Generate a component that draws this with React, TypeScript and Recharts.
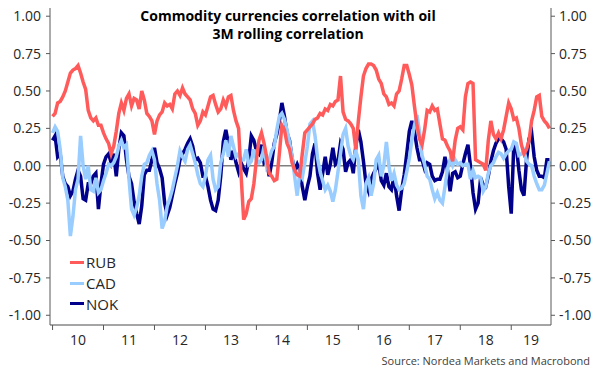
import React from 'react';
import { LineChart, Line, XAxis, YAxis, CartesianGrid, ReferenceLine } from 'recharts';

// 3M rolling correlation with oil, sampled every 0.05 year from 2010
const startYear = 2010;
const stepYears = 0.05;

const yearTicks = [2010, 2011, 2012, 2013, 2014, 2015, 2016, 2017, 2018, 2019];
const yearLabels = ['10', '11', '12', '13', '14', '15', '16', '17', '18', '19'];
const valueTicks = [-1, -0.75, -0.5, -0.25, 0, 0.25, 0.5, 0.75, 1];
const seriesNames = ['RUB', 'CAD', 'NOK'];

const rub = [
  0.33, 0.35, 0.42, 0.43, 0.46, 0.5, 0.56, 0.62, 0.64, 0.65, 0.67, 0.62, 0.56, 0.51, 0.37, 0.32, 0.3, 0.32, 0.27, 0.27, 0.22, 0.18, 0.15, 0.08, 0.13, 0.23, 0.35, 0.42, 0.37, 0.45, 0.48, 0.4,
  0.45, 0.44, 0.38, 0.5, 0.44, 0.35, 0.33, 0.3, 0.21, 0.3, 0.34, 0.36, 0.42, 0.4, 0.41, 0.38, 0.48, 0.5, 0.47, 0.52, 0.48, 0.46, 0.44, 0.38, 0.35, 0.27, 0.3, 0.36, 0.34, 0.4, 0.46, 0.47, 0.41,
  0.36, 0.38, 0.44, 0.4, 0.46, 0.47, 0.37, 0.3, 0.25, -0.07, -0.36, -0.32, -0.24, -0.22, -0.12, 0.04, 0.17, 0.22, 0.15, 0.06, -0.05, -0.07, -0.1, -0.09, 0.08, 0.27, 0.24, 0.15, 0.11, 0.02, -0.03, -0.06, -0.07,
  0.08, 0.22, 0.24, 0.26, 0.28, 0.31, 0.32, 0.35, 0.34, 0.38, 0.37, 0.41, 0.4, 0.43, 0.44, 0.6, 0.36, 0.31, 0.3, 0.28, 0.25, 0.11, 0.3, 0.46, 0.6, 0.65, 0.68, 0.68, 0.67, 0.64, 0.58, 0.55, 0.48,
  0.46, 0.41, 0.42, 0.4, 0.48, 0.5, 0.58, 0.67, 0.67, 0.61, 0.54, 0.4, 0.27, 0.18, 0.14, 0.24, 0.37, 0.36, 0.4, 0.37, 0.38, 0.28, 0.18, 0.17, 0.13, 0.1, 0.03, 0.17, 0.25, 0.26, 0.24, 0.46, 0.55,
  0.56, 0.55, 0.04, 0.03, 0.02, 0.01, -0.03, 0.17, 0.3, 0.21, 0.18, 0.22, 0.18, 0.24, 0.33, 0.42, 0.38, 0.31, 0.32, 0.25, 0.14, 0.08, 0.11, 0.17, 0.3, 0.37, 0.46, 0.47, 0.33, 0.3, 0.28, 0.25,
];

const cad = [
  0.22, 0.26, 0.23, 0.11, -0.08, -0.14, -0.23, -0.47, -0.34, -0.16, -0.09, 0.2, 0.0, -0.09, 0.0, -0.16, -0.17, -0.08, -0.18, -0.16, -0.1, -0.05, 0.01, 0.0, 0.02, 0.06, 0.13, 0.17, 0.12, 0.14, -0.09, -0.29,
  -0.33, -0.28, -0.2, -0.07, 0.01, 0.02, 0.07, 0.1, 0.04, -0.12, -0.23, -0.42, -0.37, -0.27, -0.22, -0.16, -0.08, 0.0, 0.1, 0.06, 0.03, 0.11, 0.14, 0.08, 0.02, -0.06, -0.12, -0.14, -0.07, 0.04, 0.07, -0.09, -0.16,
  -0.14, 0.02, 0.08, 0.17, 0.06, 0.2, 0.13, 0.06, 0.08, 0.04, 0.04, 0.11, 0.01, 0.03, 0.11, 0.04, 0.02, 0.04, 0.13, 0.0, 0.04, 0.1, 0.13, 0.24, 0.33, 0.35, 0.31, 0.24, 0.16, 0.06, -0.07, -0.2, -0.05,
  -0.08, 0.02, 0.13, 0.28, 0.3, 0.2, 0.05, -0.04, -0.1, -0.16, -0.13, -0.17, -0.24, -0.16, -0.04, 0.08, 0.21, 0.25, 0.13, 0.07, 0.04, 0.1, 0.04, -0.2, -0.29, -0.12, -0.08, -0.2, -0.12, 0.04, 0.07, -0.07, 0.0,
  0.16, 0.0, -0.1, -0.05, -0.13, -0.16, -0.15, -0.12, -0.04, 0.05, 0.17, 0.27, 0.34, 0.23, 0.07, 0.01, -0.07, -0.09, -0.16, -0.22, -0.18, -0.23, -0.25, -0.14, -0.02, 0.04, 0.0, 0.04, 0.01, 0.02, 0.0, 0.01, 0.01,
  -0.09, -0.03, -0.08, -0.07, -0.08, -0.17, -0.14, -0.05, 0.0, 0.02, 0.06, 0.09, 0.08, 0.05, 0.08, 0.1, 0.11, 0.16, 0.15, 0.07, 0.08, 0.1, 0.03, 0.01, 0.0, -0.07, -0.12, -0.16, -0.16, -0.13, -0.05, 0.03,
];

const nok = [
  0.17, 0.2, 0.06, 0.08, -0.07, -0.12, -0.14, -0.2, -0.17, -0.09, -0.03, -0.07, -0.22, -0.23, -0.12, -0.12, -0.07, -0.05, -0.29, -0.12, 0.01, 0.06, 0.08, 0.02, 0.08, -0.07, 0.11, 0.22, 0.2, 0.04, -0.07, -0.12,
  -0.24, -0.32, -0.39, -0.27, -0.06, -0.03, -0.03, 0.04, 0.12, 0.02, -0.02, -0.08, -0.25, -0.33, -0.28, -0.2, -0.12, -0.05, 0.04, 0.08, 0.11, 0.15, 0.18, 0.13, 0.04, 0.05, 0.02, -0.07, -0.07, -0.14, -0.23, -0.29, -0.3,
  -0.23, -0.07, 0.16, 0.24, 0.15, 0.04, 0.1, 0.02, -0.04, 0.02, -0.02, -0.05, 0.04, 0.2, 0.17, 0.1, 0.08, 0.14, 0.02, 0.04, -0.07, 0.02, 0.15, 0.21, 0.3, 0.42, 0.33, 0.22, 0.17, 0.05, -0.03, 0.01, -0.03,
  -0.14, -0.23, -0.14, -0.07, 0.08, 0.15, -0.05, -0.16, -0.05, 0.06, -0.06, 0.01, 0.12, 0.01, 0.03, 0.15, 0.11, -0.04, 0.02, 0.04, -0.05, 0.13, 0.24, 0.16, 0.03, -0.12, -0.17, -0.09, -0.05, -0.02, 0.02, -0.1, -0.13,
  -0.05, -0.14, -0.16, -0.07, -0.2, -0.3, -0.16, -0.06, 0.08, 0.23, 0.3, 0.23, 0.12, 0.04, 0.04, -0.02, 0.02, 0.01, -0.07, -0.1, -0.09, -0.09, -0.04, 0.06, -0.03, -0.17, -0.05, -0.04, -0.08, -0.07, 0.01, 0.08, 0.14,
  0.0, -0.18, -0.29, -0.25, -0.08, -0.13, -0.14, -0.07, 0.03, 0.1, 0.15, 0.18, 0.18, 0.16, 0.11, -0.14, -0.32, 0.14, 0.13, -0.03, -0.16, -0.2, 0.04, 0.18, 0.22, 0.06, -0.03, -0.07, -0.07, -0.08, 0.04, 0.04,
];

const data = rub.map((v, i) => ({
  t: startYear + i * stepYears,
  RUB: v,
  CAD: cad[i],
  NOK: nok[i],
}));

const colors: Record<string, string> = { RUB: '#ff5b5b', CAD: '#99ccff', NOK: '#00008b' };

const W = 600;
const H = 378;
const PLOT_LEFT = 50;
const PLOT_RIGHT = 551;
const X_MIN = 2009.95;
const X_MAX = 2019.78;
const FONT = '"Open Sans", "Noto Sans", sans-serif';

const YearTick = (props: any) => {
  const { x, y, payload } = props;
  const idx = yearTicks.indexOf(payload.value);
  const halfYear = (PLOT_RIGHT - PLOT_LEFT) / (X_MAX - X_MIN) / 2;
  const labelX = Math.min(x + halfYear, (x + PLOT_RIGHT) / 2);
  return (
    <g>
      <line x1={x} x2={x} y1={y} y2={y + 5} stroke="#595959" strokeWidth={1} />
      <text x={labelX} y={y + 20} textAnchor="middle" fontSize={14} fill="#262626" fontFamily={FONT}>
        {yearLabels[idx]}
      </text>
    </g>
  );
};

const App: React.FC = () => {
  const tickStyle = { fontSize: 14, fill: '#262626', fontFamily: FONT };
  return (
    <div style={{ position: 'relative', width: W, height: H, margin: -8, background: '#fff' }}>
      <LineChart width={W} height={H} data={data} margin={{ top: 5, right: 0, bottom: 0, left: 0 }}>
        <CartesianGrid horizontal vertical={false} stroke="#e3e3e3" strokeWidth={1} />
        <XAxis
          dataKey="t"
          type="number"
          domain={[X_MIN, X_MAX]}
          ticks={yearTicks}
          height={53}
          tickSize={0}
          tickMargin={0}
          tickLine={false}
          interval={0}
          stroke="#595959"
          tick={<YearTick />}
          allowDataOverflow
        />
        <YAxis
          yAxisId="left"
          orientation="left"
          width={50}
          domain={[-1.065, 1.075]}
          ticks={valueTicks}
          interval={0}
          tickFormatter={(v: number) => v.toFixed(2)}
          tick={tickStyle}
          tickSize={4}
          tickMargin={5}
          stroke="#595959"
          allowDataOverflow
        />
        <YAxis
          yAxisId="right"
          orientation="right"
          width={49}
          domain={[-1.065, 1.075]}
          ticks={valueTicks}
          interval={0}
          tickFormatter={(v: number) => v.toFixed(2)}
          tick={tickStyle}
          tickSize={4}
          tickMargin={4}
          stroke="#595959"
          allowDataOverflow
        />
        <ReferenceLine yAxisId="left" y={0} stroke="#7f7f7f" strokeWidth={1.5} />
        <Line yAxisId="left" type="linear" dataKey="NOK" stroke={colors.NOK} strokeWidth={3.5} dot={false} isAnimationActive={false} />
        <Line yAxisId="left" type="linear" dataKey="CAD" stroke={colors.CAD} strokeWidth={3.5} dot={false} isAnimationActive={false} />
        <Line yAxisId="left" type="linear" dataKey="RUB" stroke={colors.RUB} strokeWidth={3.5} dot={false} isAnimationActive={false} />
      </LineChart>

      <div style={{ position: 'absolute', left: 70, top: 252, fontFamily: FONT, fontSize: 15, color: '#262626' }}>
        {seriesNames.map((name) => (
          <div key={name} style={{ display: 'flex', alignItems: 'center', height: 20.7, lineHeight: '20px' }}>
            <span style={{ display: 'inline-block', flex: '0 0 14px', height: 3, background: colors[name], marginRight: 2 }} />
            <span>{name}</span>
          </div>
        ))}
      </div>

      <div
        style={{
          position: 'absolute',
          left: 0,
          width: 576,
          top: 7,
          textAlign: 'center',
          fontFamily: FONT,
          fontWeight: 700,
          fontSize: 14,
          lineHeight: '18px',
          color: '#000',
        }}
      >
        <div style={{ height: 18 }}>Commodity currencies correlation with oil</div>
        <div style={{ height: 18 }}>3M rolling correlation</div>
      </div>
      <div
        style={{
          position: 'absolute',
          right: 10,
          top: 353,
          fontFamily: FONT,
          fontSize: 11,
          color: '#404040',
        }}
      >
        Source: Nordea Markets and Macrobond
      </div>
    </div>
  );
};

export default App;
